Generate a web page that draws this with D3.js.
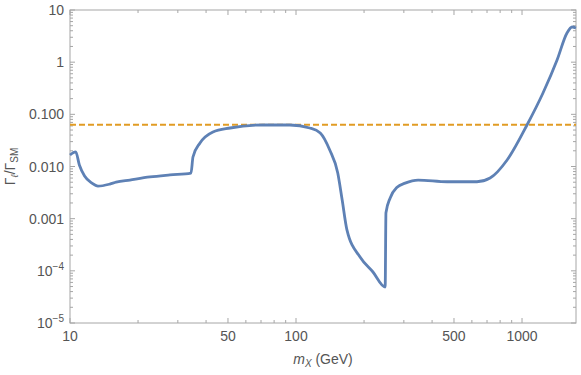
<!DOCTYPE html>
<html>
<head>
<meta charset="utf-8">
<script src="https://cdn.jsdelivr.net/npm/d3@7"></script>
<style>
  body { margin: 0; background: #fff; }
  text { font-family: "Liberation Sans", Arial, sans-serif; fill: #555; }
</style>
</head>
<body>
<div id="plot"></div>
<script>
// chart data
const massGeV = [10, 10.6, 11.0, 11.6, 12.5, 13.3, 15.0, 16.0, 18.4, 22.6, 27.7, 34.3,
  35.0, 37.6, 42.9, 51.1, 71.5, 94.0, 115, 128, 141, 153, 160, 168, 192, 219, 248,
  250, 261, 280, 304, 347, 466, 632, 722, 859, 1052, 1238, 1429, 1581, 1665, 1733];
const widthRatio = [0.0166, 0.0190, 0.0107, 0.0066, 0.0048, 0.0042, 0.0046, 0.0050, 0.0055, 0.0063, 0.0069, 0.0075,
  0.0152, 0.0282, 0.0459, 0.0547, 0.0625, 0.0625, 0.0547, 0.0439, 0.0207, 0.0075, 0.0023, 6.1e-4, 1.84e-4, 9.5e-5, 4.9e-5,
  0.0013, 0.0025, 0.0040, 0.0048, 0.0055, 0.0051, 0.0051, 0.0060, 0.0133, 0.0625, 0.256, 1.10, 3.63, 4.72, 4.52];
const limitValue = 0.063;

const xTickVals = [10, 50, 100, 500, 1000];
const yTickVals = [10, 1, 0.1, 0.01, 0.001, 1e-4, 1e-5];
const yTickLabels = ["10", "1", "0.100", "0.010", "0.001", "10^-4", "10^-5"];

// svg size and margins
const svgWidth = 581;
const svgHeight = 375;
const margin = {top: 10, right: 5, bottom: 52, left: 70};
const w = svgWidth - margin.left - margin.right;
const h = svgHeight - margin.top - margin.bottom;

let svg = d3.select("#plot")
  .append("svg")
  .attr("width", svgWidth)
  .attr("height", svgHeight);

let g = svg.append("g")
  .attr("transform", "translate(" + margin.left + "," + margin.top + ")");

var x = d3.scaleLog().domain([10, 1733]).range([0, w]);
var y = d3.scaleLog().domain([1e-5, 10]).range([h, 0]);

// minor ticks: 2..9 times each decade
let xMinor = [];
for (let d = 10; d <= 1000; d *= 10)
  for (let k = 2; k <= 9; k++) if (d * k <= 1733 && !xTickVals.includes(d * k)) xMinor.push(d * k);
let yMinor = [];
for (let d = 1e-5; d < 10; d *= 10)
  for (let k = 2; k <= 9; k++) yMinor.push(d * k);

const frameColor = "#a6a6a6";

// frame
g.append("rect")
  .attr("width", w).attr("height", h)
  .attr("fill", "none").attr("stroke", frameColor).attr("stroke-width", 1);

// ticks on all four sides (pointing inward)
function xTicks(vals, len) {
  vals.forEach(v => {
    g.append("line").attr("x1", x(v)).attr("x2", x(v)).attr("y1", h).attr("y2", h - len)
      .attr("stroke", frameColor);
    g.append("line").attr("x1", x(v)).attr("x2", x(v)).attr("y1", 0).attr("y2", len)
      .attr("stroke", frameColor);
  });
}
function yTicks(vals, len) {
  vals.forEach(v => {
    g.append("line").attr("y1", y(v)).attr("y2", y(v)).attr("x1", 0).attr("x2", len)
      .attr("stroke", frameColor);
    g.append("line").attr("y1", y(v)).attr("y2", y(v)).attr("x1", w).attr("x2", w - len)
      .attr("stroke", frameColor);
  });
}
xTicks(xTickVals, 5);
xTicks(xMinor, 3);
yTicks(yTickVals, 5);
yTicks(yMinor, 3);

// x tick labels
g.selectAll(".xlab")
  .data(xTickVals)
  .enter()
  .append("text")
  .attr("x", d => x(d))
  .attr("y", h + 18)
  .attr("text-anchor", "middle")
  .attr("font-size", 14)
  .text(d => d);

// y tick labels (with superscripts for powers)
yTickVals.forEach((v, i) => {
  let lab = yTickLabels[i];
  let t = g.append("text")
    .attr("x", -6)
    .attr("y", y(v) + 5)
    .attr("text-anchor", "end")
    .attr("font-size", 14);
  if (lab.includes("^")) {
    let parts = lab.split("^");
    t.append("tspan").text(parts[0]);
    t.append("tspan").attr("dy", -6).attr("font-size", 10).text(parts[1].replace("-", "\u2212"));
  } else {
    t.text(lab);
  }
});

// dashed limit line
g.append("line")
  .attr("x1", 0).attr("x2", w)
  .attr("y1", y(limitValue)).attr("y2", y(limitValue))
  .attr("stroke", "#e19c24")
  .attr("stroke-width", 2)
  .attr("stroke-dasharray", "6,3");

// the curve
let line = d3.line()
  .x((d, i) => x(massGeV[i]))
  .y(d => y(d))
  .curve(d3.curveMonotoneX);

g.append("path")
  .datum(widthRatio)
  .attr("d", line)
  .attr("fill", "none")
  .attr("stroke", "#5e81b5")
  .attr("stroke-width", 2.8)
  .attr("stroke-linejoin", "round");

// axis labels
let xl = svg.append("text")
  .attr("x", margin.left + w / 2)
  .attr("y", 364)
  .attr("text-anchor", "middle")
  .attr("font-size", 14);
xl.append("tspan").attr("font-style", "italic").text("m");
xl.append("tspan").attr("dy", 3).attr("font-size", 10).attr("font-style", "italic").text("X");
xl.append("tspan").attr("dy", -3).text(" (GeV)");

let yl = svg.append("text")
  .attr("transform", "translate(15," + (margin.top + h / 2) + ") rotate(-90)")
  .attr("text-anchor", "middle")
  .attr("font-size", 14);
yl.append("tspan").text("\u0393");
yl.append("tspan").attr("dy", 3).attr("font-size", 10).attr("font-style", "italic").text("\u2113");
yl.append("tspan").attr("dy", -3).text("/\u0393");
yl.append("tspan").attr("dy", 3).attr("font-size", 10).text("SM");
</script>
</body>
</html>
